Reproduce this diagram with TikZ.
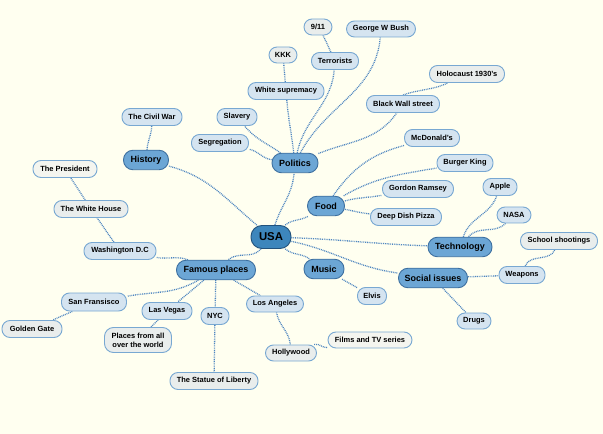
\documentclass[tikz,border=0pt]{standalone}
\usepackage{fontspec}
\setmainfont{Liberation Sans}
\usetikzlibrary{backgrounds}
\definecolor{bgc}{HTML}{FFFFF0}
\definecolor{rootfill}{HTML}{3D86BC}
\definecolor{rootdraw}{HTML}{22527C}
\definecolor{lafill}{HTML}{6CA6D5}
\definecolor{ladraw}{HTML}{3E70A0}
\definecolor{lbfill}{HTML}{D5E4F0}
\definecolor{lbdraw}{HTML}{78A8D2}
\definecolor{lcfill}{HTML}{E9EDEC}
\definecolor{ldfill}{HTML}{F4F5EF}
\definecolor{edgec}{HTML}{4F86C0}
\tikzset{
  base/.style={rectangle, inner sep=0pt, line width=0.9bp, align=center, font=\bfseries},
  rootnode/.style={base, fill=rootfill, draw=rootdraw, minimum width=40bp, minimum height=23bp, rounded corners=11bp, font=\bfseries\fontsize{11.4}{13}\selectfont},
  lanode/.style={base, fill=lafill, draw=ladraw, minimum height=19.5bp, rounded corners=9.5bp, font=\bfseries\fontsize{9}{10}\selectfont},
  lbnode/.style={base, fill=lbfill, draw=lbdraw, minimum height=17bp, rounded corners=8bp, font=\bfseries\fontsize{7.5}{9}\selectfont},
  lcnode/.style={lbnode, fill=lcfill},
  ldnode/.style={lbnode, fill=ldfill},
  link/.style={draw=edgec, line width=1.3bp, dash pattern=on 0.9bp off 0.9bp},
}
\begin{document}
\begin{tikzpicture}[x=1bp,y=-1bp]
\begin{scope}[on background layer]
\fill[bgc] (0,0) rectangle (603,434);
\end{scope}
\useasboundingbox (0,0) rectangle (603,434);
% root
\node[rootnode] (usa) at (271,237) {USA};
% level 1
\node[lanode, minimum width=45bp] (history) at (146,160) {History};
\node[lanode, minimum width=46bp] (politics) at (295,163) {Politics};
\node[lanode, minimum width=37bp] (food) at (326,206) {Food};
\node[lanode, minimum width=64bp] (tech) at (460,247) {Technology};
\node[lanode, minimum width=69bp] (social) at (433,278) {Social issues};
\node[lanode, minimum width=40bp] (music) at (324,269) {Music};
\node[lanode, minimum width=79bp] (famous) at (216,270) {Famous places};
% level 2 / 3 / 4
\node[lbnode, minimum width=60bp] (civil) at (152,117) {The Civil War};
\node[lbnode, minimum width=40bp] (slavery) at (237,117) {Slavery};
\node[lbnode, minimum width=57bp] (seg) at (220,143) {Segregation};
\node[lbnode, minimum width=76bp] (ws) at (286,91) {White supremacy};
\node[lcnode, minimum width=28bp, minimum height=16bp] (kkk) at (283,55) {KKK};
\node[lbnode, minimum width=47bp] (terr) at (335,61) {Terrorists};
\node[lcnode, minimum width=28bp, minimum height=16bp] (nine) at (318,27) {9/11};
\node[lbnode, minimum width=69bp, minimum height=16bp] (bush) at (381,29) {George W Bush};
\node[lbnode, minimum width=73bp] (bws) at (403,104) {Black Wall street};
\node[lcnode, minimum width=75bp] (holo) at (467,74) {Holocaust 1930's};
\node[lbnode, minimum width=55bp] (mcd) at (432,138) {McDonald's};
\node[lbnode, minimum width=56bp] (bk) at (465,163) {Burger King};
\node[lbnode, minimum width=71bp] (gr) at (418,189) {Gordon Ramsey};
\node[lbnode, minimum width=71bp] (ddp) at (406,217) {Deep Dish Pizza};
\node[lbnode, minimum width=34bp] (apple) at (500,187) {Apple};
\node[lbnode, minimum width=34bp, minimum height=16bp] (nasa) at (514,215) {NASA};
\node[lbnode, minimum width=46bp] (weapons) at (522,275) {Weapons};
\node[lcnode, minimum width=77bp] (school) at (559,241) {School shootings};
\node[lbnode, minimum width=34bp, minimum height=16bp] (drugs) at (474,321) {Drugs};
\node[lbnode, minimum width=29bp] (elvis) at (372,296) {Elvis};
\node[lbnode, minimum width=72bp] (wdc) at (120,251) {Washington D.C};
\node[lcnode, minimum width=74bp] (twh) at (91,209) {The White House};
\node[ldnode, minimum width=64bp] (pres) at (65,169) {The President};
\node[lbnode, minimum width=65bp, minimum height=18bp] (sf) at (94,302) {San Fransisco};
\node[lcnode, minimum width=60bp] (gg) at (32,329) {Golden Gate};
\node[lbnode, minimum width=50bp] (lv) at (167,311) {Las Vegas};
\node[lcnode, minimum width=67bp, minimum height=25bp, rounded corners=9bp] (places) at (138,340) {Places from all\\over the world};
\node[lbnode, minimum width=28bp] (nyc) at (215,316) {NYC};
\node[lcnode, minimum width=88bp] (statue) at (214,381) {The Statue of Liberty};
\node[lbnode, minimum width=57bp, minimum height=16bp] (la) at (275,304) {Los Angeles};
\node[lcnode, minimum width=51bp, minimum height=16bp] (holly) at (291,353) {Hollywood};
\node[ldnode, minimum width=84bp, minimum height=16bp] (films) at (370,340) {Films and TV series};
% connectors
\begin{scope}[on background layer]
\path[link] (usa) to[out=140,in=-15] (history);
\path[link] (usa) to[out=72,in=-95] (politics);
\path[link] (usa) to[out=40,in=-150] (food);
\path[link] (usa) to[out=-2,in=178] (tech);
\path[link] (usa) to[out=-12,in=172] (social);
\path[link] (usa) to[out=-40,in=145] (music);
\path[link] (usa) to[out=-130,in=40] (famous);
\path[link] (history) to[out=85,in=-92] (civil);
\path[link] (politics) to[out=145,in=-50] (slavery);
\path[link] (politics) to[out=172,in=-12] (seg);
\path[link] (politics) to[out=97,in=-85] (ws);
\path[link] (ws) -- (kkk);
\path[link] (politics) to[out=78,in=-95] (terr);
\path[link] (terr) to[out=115,in=-60] (nine);
\path[link] (politics) to[out=62,in=-95] (bush);
\path[link] (politics) to[out=22,in=-125] (bws);
\path[link] (bws.north) to[out=20,in=-155] (holo);
\path[link] (food) to[out=55,in=-165] (mcd);
\path[link] (food) to[out=30,in=-170] (bk);
\path[link] (food) to[out=15,in=-170] (gr);
\path[link] (food) to[out=-10,in=175] (ddp);
\path[link] (tech) to[out=72,in=-110] (apple);
\path[link] (tech) to[out=50,in=-135] (nasa);
\path[link] (social) -- (weapons);
\path[link] (weapons) to[out=70,in=-115] (school);
\path[link] (social) -- (drugs);
\path[link] (music) -- (elvis);
\path[link] (famous) to[out=160,in=-10] (wdc);
\path[link] (wdc) -- (twh);
\path[link] (twh) -- (pres);
\path[link] (famous) to[out=-150,in=10] (sf);
\path[link] (sf) -- (gg);
\path[link] (famous) -- (lv);
\path[link] (lv) -- (places);
\path[link] (famous) -- (nyc);
\path[link] (nyc) -- (statue);
\path[link] (famous) -- (la);
\path[link] (la) to[out=-80,in=95] (holly);
\path[link] (holly) to[out=20,in=-170] (films);
\end{scope}
\end{tikzpicture}
\end{document}
